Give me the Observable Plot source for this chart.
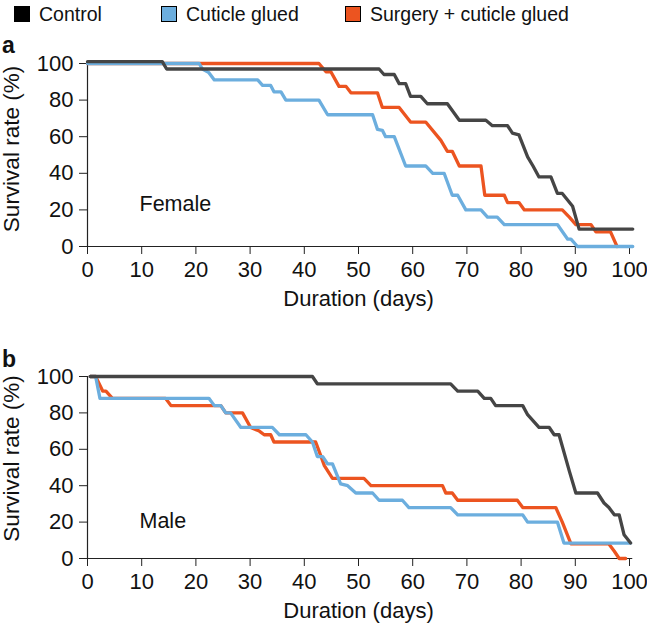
<!DOCTYPE html>
<html>
<head>
<meta charset="utf-8">
<script src="https://cdn.jsdelivr.net/npm/d3@7"></script>
<script src="https://cdn.jsdelivr.net/npm/@observablehq/plot@0.6"></script>
<style>
  body { margin: 0; width: 647px; height: 625px; position: relative; background: #fff; overflow: hidden;
         font-family: "Liberation Sans", Arial, Helvetica, sans-serif; color: #111; }
  .abs { position: absolute; }
  .legend-item { position: absolute; top: 3px; display: flex; align-items: center; font-size: 19.5px; line-height: 22px; white-space: nowrap; }
  .sw { width: 16px; height: 16px; border: 1.2px solid #000; box-sizing: border-box; margin-right: 9px; }
  .panel-letter { position: absolute; left: 2px; font-weight: bold; font-size: 23px; line-height: 22px; }
</style>
</head>
<body>
<div id="legend"></div>
<div class="panel-letter" style="top:34px">a</div>
<div id="pa" class="abs" style="left:0;top:30px"></div>
<div class="panel-letter" style="top:348px">b</div>
<div id="pb" class="abs" style="left:0;top:340px"></div>
<script>
// ---- data ----
const seriesNames = ["Control", "Cuticle glued", "Surgery + cuticle glued"];
const seriesColors = ["#454545", "#6caede", "#ec5420"];
const xTicks = [0, 10, 20, 30, 40, 50, 60, 70, 80, 90, 100];
const yTicks = [0, 20, 40, 60, 80, 100];
const panelLabels = ["Female", "Male"];

// Female (a)
const femControlDays = [0, 13.8, 14.6, 53.8, 54.7, 56.6, 57.5, 58.7, 59.6, 61.5, 62.7, 66.4, 68.6, 73.5, 74.7, 77.5, 78.4, 79.6, 81.2, 82.2, 83.3, 85.5, 86.7, 87.6, 89.5, 90.7, 100.6];
const femControlPct  = [101, 101, 97, 97, 94, 94, 89, 89, 82, 82, 78, 78, 69, 69, 66, 66, 62, 61, 49, 44, 38, 38, 29, 29, 22, 9.5, 9.5];
const femCuticleDays = [0, 20.6, 21.2, 22.4, 23.4, 31.4, 32.3, 33.8, 34.4, 35.7, 36.6, 42.7, 44.3, 52.6, 53.5, 54.4, 55.0, 56.6, 58.7, 62.4, 63.7, 65.8, 67.3, 68.3, 69.8, 72.6, 73.8, 75.6, 76.9, 86.7, 88.6, 89.2, 90.4, 100.6];
const femCuticlePct  = [100, 100, 97, 95, 91, 91, 88, 88, 84.5, 84.5, 80, 80, 72, 72, 64, 63.5, 60, 60, 44, 44, 40, 40, 28, 28, 20, 20, 16, 16, 12, 12, 4, 4, 0, 0];
const femSurgeryDays = [0, 42.7, 44.0, 44.9, 46.4, 47.7, 48.6, 53.5, 54.4, 57.5, 59.6, 62.4, 65.2, 66.4, 67.3, 68.6, 72.6, 73.3, 76.9, 77.5, 79.6, 80.6, 87.6, 88.9, 90.1, 92.9, 93.8, 96.5, 97.7];
const femSurgeryPct  = [100, 100, 95.5, 95.5, 87.5, 87.5, 84, 84, 76, 76, 68, 68, 58, 52, 52, 44, 44, 28, 28, 24, 24, 20, 20, 16, 12, 12, 8, 8, 0];

// Male (b)
const maleControlDays = [0.5, 41.5, 42.4, 67.0, 68.3, 72.0, 73.2, 74.4, 75.3, 80.3, 81.2, 83.3, 85.2, 86.1, 87.0, 88.9, 90.1, 94.1, 95.3, 96.2, 97.2, 98.1, 99.0, 100.2];
const maleControlPct  = [100, 100, 96, 96, 92, 92, 88, 88, 84, 84, 79, 72, 72, 68, 68, 48, 36, 36, 30.5, 28, 24, 24, 13, 8.5];
const maleCuticleDays = [0.5, 1.5, 2.3, 22.4, 23.4, 24.6, 25.5, 26.4, 28.3, 34.1, 35.4, 40.3, 41.5, 42.4, 43.4, 44.3, 45.2, 46.7, 48.0, 49.5, 52.6, 53.8, 58.1, 59.3, 67.0, 68.3, 80.3, 81.2, 86.7, 87.9, 100.2];
const maleCuticlePct  = [100, 100, 88, 88, 84, 84, 80, 80, 72, 72, 68, 68, 64, 56, 56, 52, 52, 41, 40, 36, 36, 32, 32, 28, 28, 24, 24, 20, 20, 8.5, 8.5];
const maleSurgeryDays = [0.5, 1.5, 2.8, 3.4, 4.6, 14.4, 15.4, 24.6, 25.5, 28.6, 30.1, 31.7, 32.6, 33.8, 34.4, 42.1, 43.1, 43.7, 45.2, 51.0, 52.3, 65.5, 66.1, 67.3, 68.3, 79.3, 80.3, 86.4, 87.6, 89.2, 96.2, 97.2, 98.1, 99.3];
const maleSurgeryPct  = [100, 100, 92, 92, 88, 88, 84, 84, 80, 80, 72, 70, 68, 68, 64, 64, 56, 51, 44, 44, 40, 40, 36, 36, 32, 32, 28, 28, 20, 8, 8, 4, 0, 0];

// ---- helpers ----
const zip = (days, pct) => days.map((d, i) => ({day: d, pct: pct[i]}));
const font = "'Liberation Sans', Arial, Helvetica, sans-serif";

// legend
const legendLeft = [14, 161, 345];
const legend = document.getElementById("legend");
seriesNames.forEach((name, i) => {
  const item = document.createElement("div");
  item.className = "legend-item";
  item.style.left = legendLeft[i] + "px";
  const sw = document.createElement("div");
  sw.className = "sw";
  sw.style.background = i === 0 ? "#000" : seriesColors[i];
  item.appendChild(sw);
  item.appendChild(document.createTextNode(name));
  legend.appendChild(item);
});

function panel(series, label, opts) {
  const [ctrl, cut, surg] = series;
  return Plot.plot({
    width: 647,
    height: opts.height,
    marginLeft: 87,
    marginRight: 18,
    marginTop: opts.top,
    marginBottom: opts.bottom,
    style: {fontFamily: font, fontSize: "22px", color: "#111", background: "transparent", overflow: "visible"},
    x: {domain: [0, 100]},
    y: {domain: [0, 100]},
    marks: [
      Plot.axisX({ticks: xTicks, tickSize: 8, tickPadding: 7, label: null, stroke: "#222", fontSize: 22}),
      Plot.axisY({ticks: yTicks, tickSize: 8, tickPadding: 6, label: null, stroke: "#222", fontSize: 22}),
      Plot.ruleY([0], {x1: 0, x2: 100.6, stroke: "#222", strokeWidth: 1.2}),
      Plot.ruleX([0], {stroke: "#222", strokeWidth: 1.2}),
      Plot.line(surg, {x: "day", y: "pct", stroke: seriesColors[2], strokeWidth: 3.3}),
      Plot.line(cut, {x: "day", y: "pct", stroke: seriesColors[1], strokeWidth: 3.3}),
      Plot.line(ctrl, {x: "day", y: "pct", stroke: seriesColors[0], strokeWidth: 3.3}),
      Plot.text([label], {frameAnchor: "bottom-left", textAnchor: "start", lineAnchor: "middle", dx: 52, dy: opts.labelDy, fontSize: 21.5, fill: "#111"}),
      Plot.text(["Survival rate (%)"], {frameAnchor: "left", rotate: -90, lineAnchor: "middle", textAnchor: "middle", dx: -76, dy: opts.yLabelDy, fontSize: 22.5, fill: "#111"}),
      Plot.text(["Duration (days)"], {frameAnchor: "bottom", lineAnchor: "middle", dy: 52, fontSize: 22, fill: "#111"})
    ]
  });
}

document.getElementById("pa").appendChild(panel(
  [zip(femControlDays, femControlPct), zip(femCuticleDays, femCuticlePct), zip(femSurgeryDays, femSurgeryPct)],
  panelLabels[0], {height: 300, top: 33, bottom: 84, labelDy: -42, yLabelDy: -6}));
document.getElementById("pb").appendChild(panel(
  [zip(maleControlDays, maleControlPct), zip(maleCuticleDays, maleCuticlePct), zip(maleSurgeryDays, maleSurgeryPct)],
  panelLabels[1], {height: 285, top: 36, bottom: 67, labelDy: -37, yLabelDy: -9}));
</script>
</body>
</html>
